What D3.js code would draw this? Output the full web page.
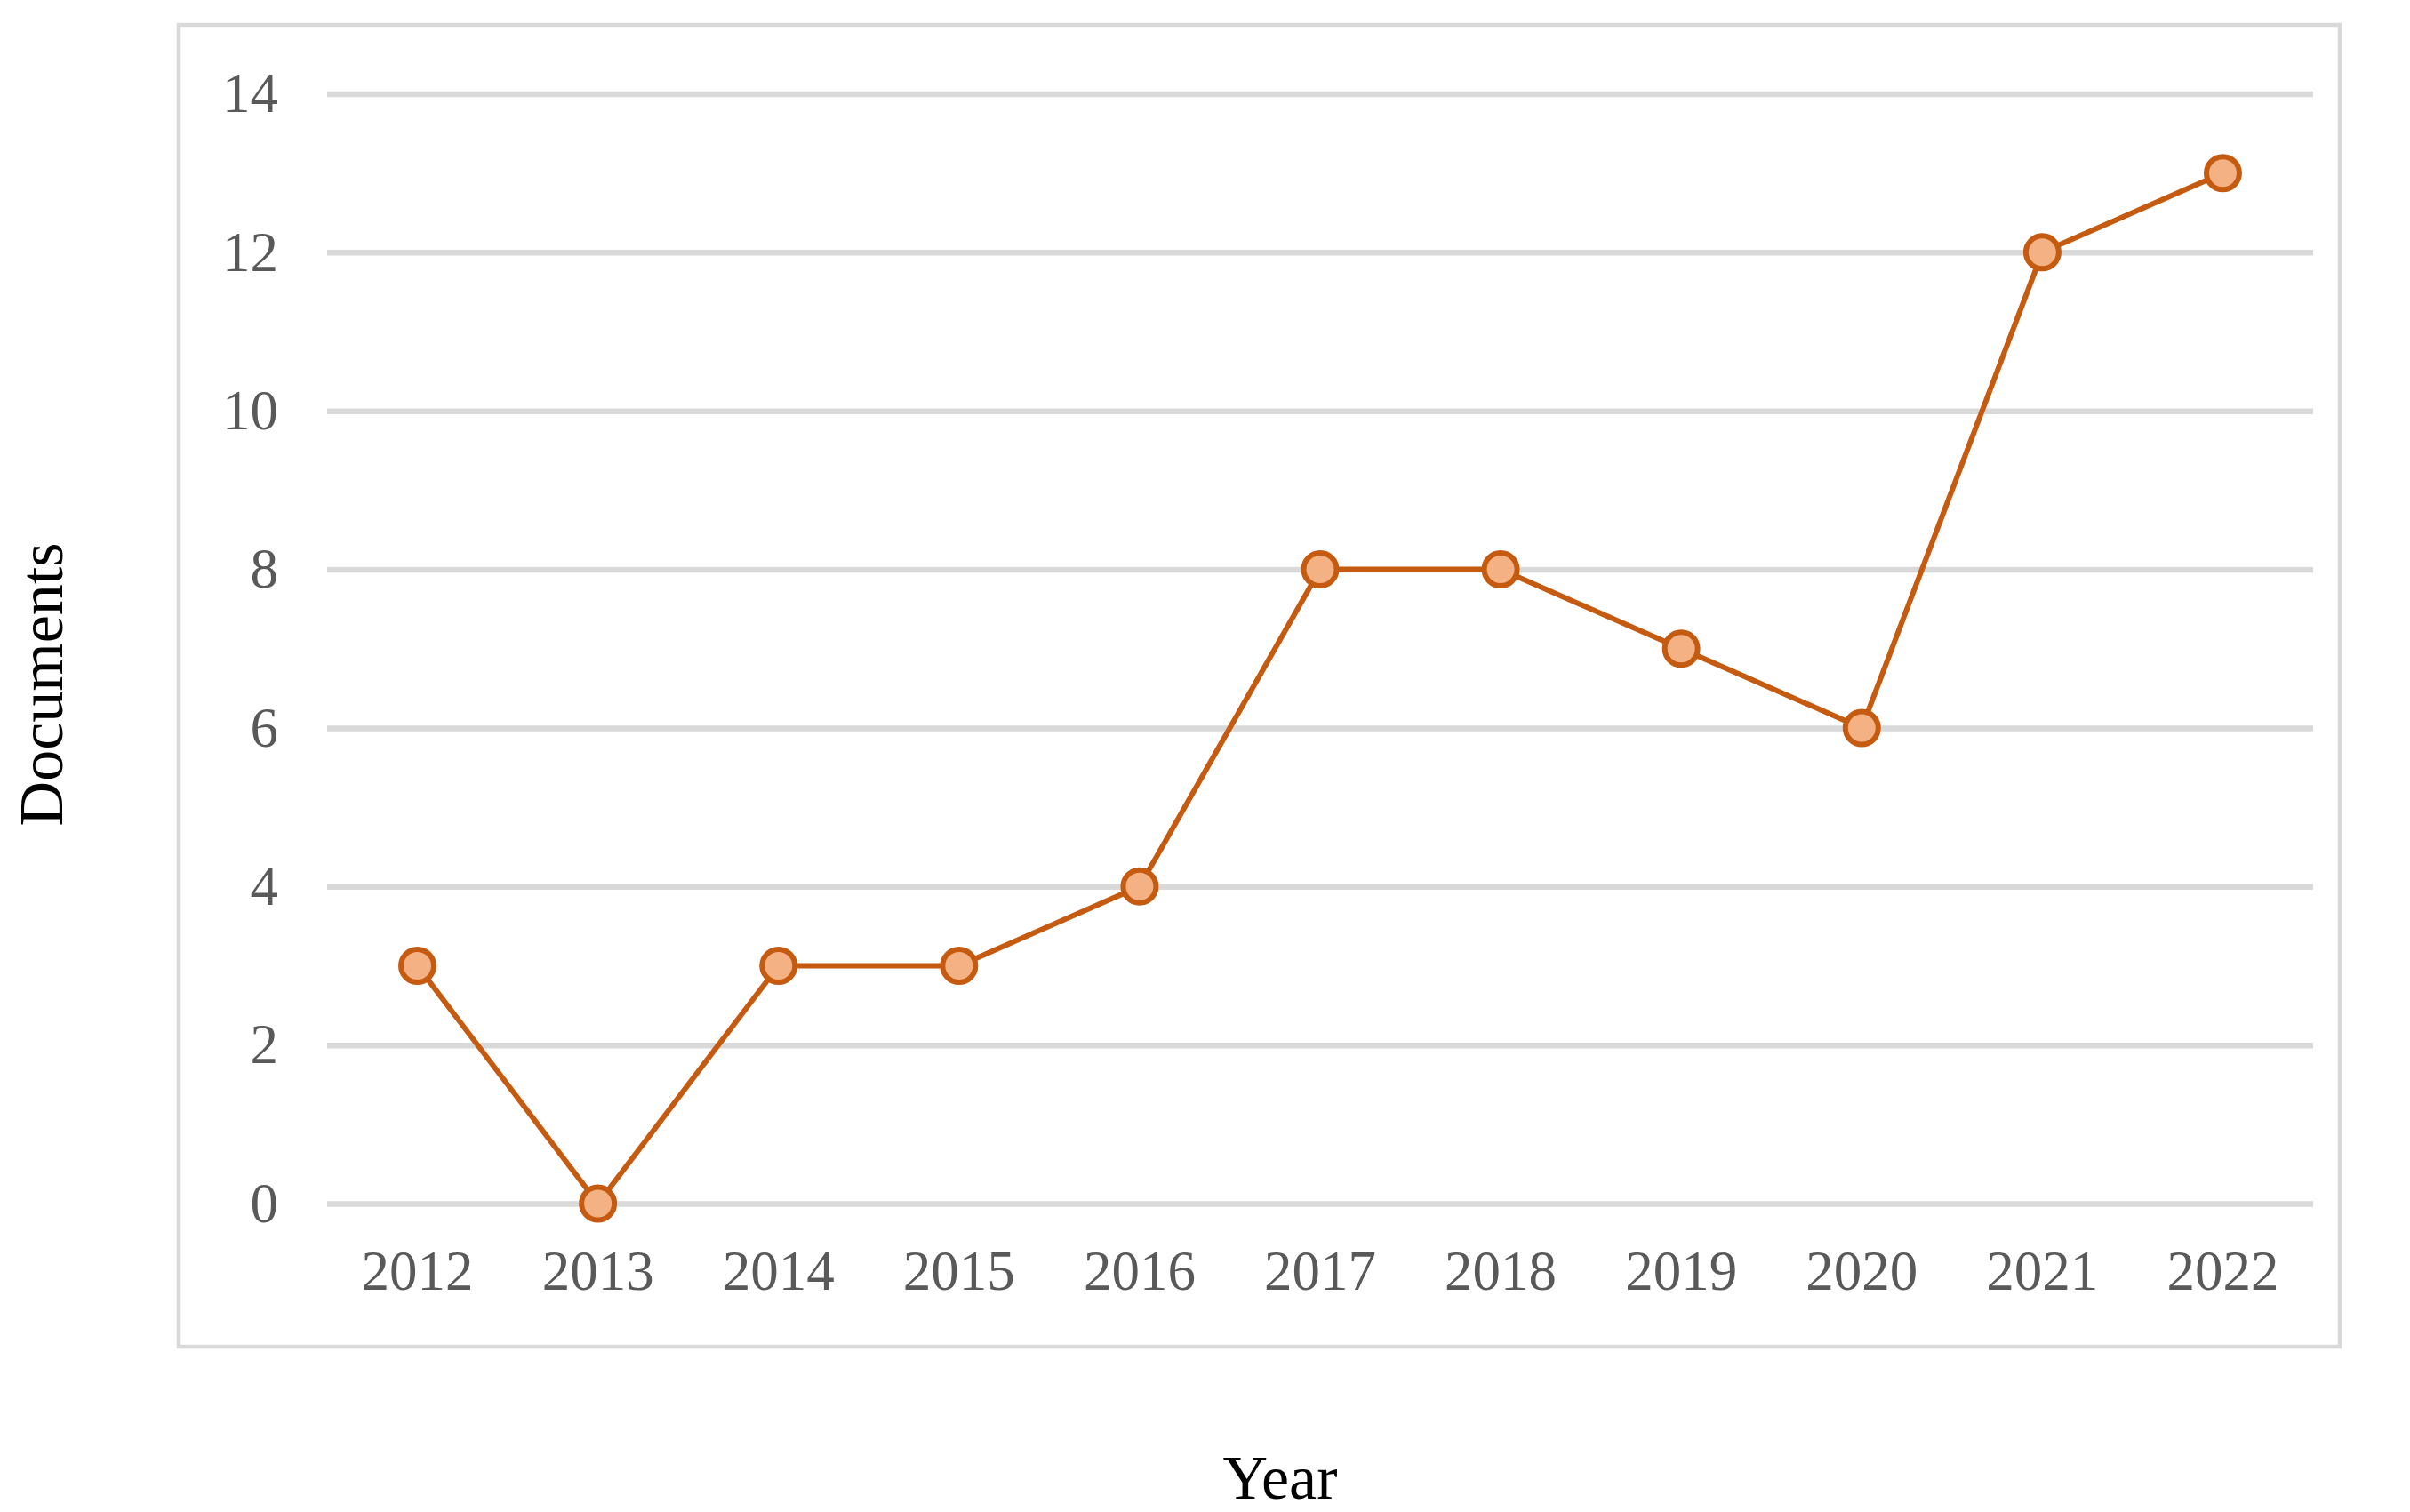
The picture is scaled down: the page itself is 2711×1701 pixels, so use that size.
<!DOCTYPE html>
<html>
<head>
<meta charset="utf-8">
<script src="https://cdn.jsdelivr.net/npm/d3@7/dist/d3.min.js"></script>
<style>
  html, body { margin: 0; padding: 0; background: #fff; }
  svg { display: block; }
</style>
</head>
<body>
<svg id="chart" width="2711" height="1701"></svg>
<script>
const years = ["2012","2013","2014","2015","2016","2017","2018","2019","2020","2021","2022"];
const documents = [3, 0, 3, 3, 4, 8, 8, 7, 6, 12, 13];
const yTicks = [0, 2, 4, 6, 8, 10, 12, 14];
const xTitle = "Year";
const yTitle = "Documents";

const W = 2711, H = 1701;
const plot = { left: 368, right: 2602, top: 105.5, bottom: 1354 };

const svg = d3.select("#chart");

// chart border
svg.append("rect")
  .attr("x", 201).attr("y", 28)
  .attr("width", 2632 - 201).attr("height", 1515 - 28)
  .attr("fill", "none").attr("stroke", "#d9d9d9").attr("stroke-width", 4.5);

const x = d3.scaleBand().domain(years).range([plot.left, plot.right]).paddingInner(0).paddingOuter(0);
const y = d3.scaleLinear().domain([0, 14]).range([plot.bottom, plot.top]);
const cx = d => x(d) + x.bandwidth() / 2;

// gridlines via axis
const yAxis = d3.axisLeft(y).tickValues(yTicks).tickSize(-(plot.right - plot.left)).tickPadding(55).tickFormat(d3.format("d"));
const gy = svg.append("g").attr("transform", `translate(${plot.left},0)`).call(yAxis);
gy.select(".domain").remove();
gy.selectAll(".tick line").attr("stroke", "#d9d9d9").attr("stroke-width", 6.5);
gy.selectAll(".tick text")
  .attr("font-family", "'Liberation Serif', 'Times New Roman', serif")
  .attr("font-size", 63).attr("fill", "#595959");

const xAxis = d3.axisBottom(x).tickSize(0).tickPadding(52);
const gx = svg.append("g").attr("transform", `translate(0,${plot.bottom})`).call(xAxis);
gx.select(".domain").remove();
gx.selectAll(".tick text")
  .attr("font-family", "'Liberation Serif', 'Times New Roman', serif")
  .attr("font-size", 63).attr("fill", "#595959");

// line
const line = d3.line().x((d, i) => cx(years[i])).y(d => y(d));
svg.append("path").datum(documents)
  .attr("d", line).attr("fill", "none")
  .attr("stroke", "#C55A11").attr("stroke-width", 6).attr("stroke-linejoin", "round");

svg.selectAll("circle.pt").data(documents).join("circle")
  .attr("class", "pt")
  .attr("cx", (d, i) => cx(years[i])).attr("cy", d => y(d))
  .attr("r", 18.5).attr("fill", "#F4B183")
  .attr("stroke", "#C55A11").attr("stroke-width", 6);

// axis titles
svg.append("text")
  .attr("x", 1440).attr("y", 1686)
  .attr("text-anchor", "middle")
  .attr("font-family", "'Liberation Serif', 'Times New Roman', serif")
  .attr("font-size", 70).attr("fill", "#000")
  .text(xTitle);

svg.append("text")
  .attr("transform", "translate(70,770) rotate(-90)")
  .attr("text-anchor", "middle")
  .attr("font-family", "'Liberation Serif', 'Times New Roman', serif")
  .attr("font-size", 70).attr("fill", "#000")
  .text(yTitle);
</script>
</body>
</html>
